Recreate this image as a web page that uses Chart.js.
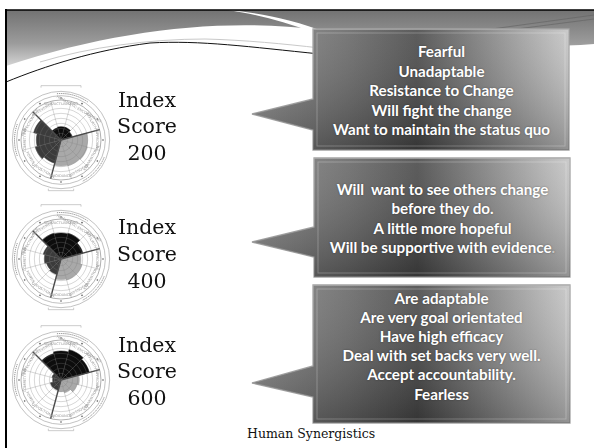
<!DOCTYPE html>
<html>
<head>
<meta charset="utf-8">
<script src="https://cdn.jsdelivr.net/npm/chart.js@4.4.0/dist/chart.umd.min.js"></script>
<style>
  html, body { margin: 0; padding: 0; background: #fff; }
  #slide { position: relative; width: 594px; height: 448px; overflow: hidden; background: #fff; }
  #bg { position: absolute; left: 0; top: 0; }
  .wheel { position: absolute; left: 1px; width: 120px; height: 120px; }
  .score { position: absolute; left: 107px; width: 80px; text-align: center;
           font-family: 'DejaVu Serif', serif; font-size: 20.5px; line-height: 26.5px; color: #111; }
  .note { position: absolute; left: 313px; width: 257px; text-align: center;
          font-family: Lato, 'Open Sans', sans-serif; font-weight: 700; font-size: 15.2px;
          color: #fff; text-shadow: 0 0 2px rgba(0,0,0,0.4); white-space: pre; }
  #footer { position: absolute; left: 247px; top: 426px; font-family: 'DejaVu Serif', serif;
            font-size: 12.5px; color: #111; white-space: nowrap; }
  #frame { position: absolute; left: 5px; top: 9px; width: 1.6px; height: 440px; background: #000; }
</style>
</head>
<body>
<div id="slide">
  <svg id="bg" width="594" height="448">
    <defs>
      <linearGradient id="band" x1="0" y1="0" x2="0" y2="1">
        <stop offset="0" stop-color="#727272"/>
        <stop offset="0.6" stop-color="#9c9c9c"/>
        <stop offset="1" stop-color="#d4d4d4"/>
      </linearGradient>
      <linearGradient id="boxH" x1="0" y1="0" x2="1" y2="0">
        <stop offset="0" stop-color="#8a8a8a"/>
        <stop offset="0.3" stop-color="#666"/>
        <stop offset="0.52" stop-color="#464646"/>
        <stop offset="0.78" stop-color="#8a8a8a"/>
        <stop offset="1" stop-color="#c4c4c4"/>
      </linearGradient>
      <linearGradient id="boxV" x1="0" y1="0" x2="0" y2="1">
        <stop offset="0" stop-color="#fff" stop-opacity="0.12"/>
        <stop offset="1" stop-color="#000" stop-opacity="0.25"/>
      </linearGradient>
    </defs>
    <!-- header swoosh -->
    <path d="M6,10 H594 V44 C520,50 420,42 320,30 C230,18 120,28 6,66 Z" fill="url(#band)"/>
    <path d="M228,10 C260,13 292,19 328,33 L312,32 C284,22 260,15 228,10 Z" fill="#fff"/>
    <path d="M40,62 C90,47 150,39 205,39 C245,40 285,44 320,48" fill="none" stroke="#c9c9c9" stroke-width="1"/>
    <path d="M6,82 C45,66 95,50 150,43 C200,40 250,47 320,54" fill="none" stroke="#111" stroke-width="1"/>
    <path d="M470,32 L594,15 M478,34 L594,19" fill="none" stroke="#666" stroke-width="0.7"/>
    <path d="M5,10 H594" stroke="#000" stroke-width="1.6"/>
    <!-- callouts -->
    <g stroke="#a4a4a4" stroke-width="1.3">
      <path d="M313,29 H569 V150 H313 V130 L252,114 L313,99 Z" fill="url(#boxH)"/>
      <path d="M314,158 H570 V277 H314 V257 L252,242 L314,227 Z" fill="url(#boxH)"/>
      <path d="M313,285 H570 V423 H313 V397 L252,383 L313,366 Z" fill="url(#boxH)"/>
    </g>
    <g stroke="none">
      <path d="M313,29 H569 V150 H313 V130 L252,114 L313,99 Z" fill="url(#boxV)"/>
      <path d="M314,158 H570 V277 H314 V257 L252,242 L314,227 Z" fill="url(#boxV)"/>
      <path d="M313,285 H570 V423 H313 V397 L252,383 L313,366 Z" fill="url(#boxV)"/>
    </g>
    <g fill="none" stroke="#fff" stroke-opacity="0.25" stroke-width="1">
      <rect x="317" y="33" width="248" height="113"/>
      <rect x="318" y="162" width="248" height="111"/>
      <rect x="317" y="289" width="249" height="130"/>
    </g>
  </svg>

  <div class="wheel" style="top:80px"><canvas id="wheel200"></canvas></div>
  <div class="wheel" style="top:199px"><canvas id="wheel400"></canvas></div>
  <div class="wheel" style="top:320px"><canvas id="wheel600"></canvas></div>

  <div class="score" style="top:86.5px">Index<br>Score<br>200</div>
  <div class="score" style="top:213.5px; line-height:27px">Index<br>Score<br>400</div>
  <div class="score" style="top:331.5px">Index<br>Score<br>600</div>

  <div class="note" style="top:42px; line-height:19.5px">Fearful
Unadaptable
Resistance to Change
Will fight the change
Want to maintain the status quo</div>
  <div class="note" style="top:180px; line-height:19.3px; left:314px">Will  want to see others change
before they do.
A little more hopeful
Will be supportive with evidence<span style="color:#c8c8c8">.</span></div>
  <div class="note" style="top:288.5px; line-height:19.2px">Are adaptable
Are very goal orientated
Have high efficacy
Deal with set backs very well.
Accept accountability.
Fearless</div>

  <div id="footer">Human Synergistics</div>
  <div id="frame"></div>
</div>

<script>
// circumplex styles, clockwise from 11 o'clock
const styleLabels = ['Achievement', 'Self-Actualizing', 'Humanistic-Encouraging', 'Affiliative',
                     'Approval', 'Conventional', 'Dependent', 'Avoidance',
                     'Oppositional', 'Power', 'Competitive', 'Perfectionistic'];
const score200 = [38, 40, 40, 35, 80, 82, 80, 78, 72, 80, 74, 85];
const score400 = [80, 78, 80, 68, 60, 65, 65, 62, 48, 45, 50, 55];
const score600 = [82, 87, 94, 88, 55, 50, 40, 35, 32, 33, 25, 28];
const ringValues = [0, 20, 35, 50, 65, 80, 95, 120];
const clusterColors = ['#0d0d0d', '#0d0d0d', '#0d0d0d', '#0d0d0d',
                       '#a9a9a9', '#a9a9a9', '#a9a9a9', '#a9a9a9',
                       '#3b3b3b', '#3b3b3b', '#3b3b3b', '#3b3b3b'];

// outer rings, dots, style names and cluster marks round the wheel
const circumplexDecor = {
    id: 'circumplexDecor',
    afterDraw: (chart) => {
        const r = chart.scales.r;
        const ctx = chart.ctx;
        const cx = r.xCenter, cy = r.yCenter;
        const dist = (v) => r.getDistanceFromCenterForValue(v);
        const n = chart.data.labels.length;
        const mid = (i) => r.getIndexAngle(i) + Math.PI / n - Math.PI / 2;
        ctx.save();

        ctx.strokeStyle = '#a8a8a8';
        ctx.lineWidth = 0.7;
        [133, 146].forEach(v => {
            ctx.beginPath();
            ctx.arc(cx, cy, dist(v), 0, Math.PI * 2);
            ctx.stroke();
        });

        ctx.fillStyle = '#555';
        for (let i = 0; i < n; i++) {
            const a = mid(i);
            ctx.beginPath();
            ctx.arc(cx + Math.cos(a) * dist(126), cy + Math.sin(a) * dist(126), 0.8, 0, Math.PI * 2);
            ctx.fill();
        }

        ctx.fillStyle = '#999';
        ctx.font = '3.6px "DejaVu Sans"';
        ctx.textAlign = 'center';
        ctx.textBaseline = 'middle';
        chart.data.labels.forEach((label, i) => {
            const a = mid(i);
            ctx.save();
            ctx.translate(cx + Math.cos(a) * dist(107), cy + Math.sin(a) * dist(107));
            let rot = a + Math.PI / 2;
            if (Math.sin(a) > 0.05) rot += Math.PI;
            ctx.rotate(rot);
            ctx.fillText(label.toUpperCase(), 0, 0);
            ctx.restore();
        });

        // cluster names on the outer band, drawn as faint dashes
        ctx.strokeStyle = '#777';
        ctx.lineWidth = 0.9;
        ctx.setLineDash([1.2, 0.9]);
        [[-95, -55], [160, 200], [22, 62]].forEach(([a0, a1]) => {
            ctx.beginPath();
            ctx.arc(cx, cy, dist(139.5), a0 * Math.PI / 180, a1 * Math.PI / 180);
            ctx.stroke();
        });
        ctx.setLineDash([]);

        // small brackets above and below
        ctx.strokeStyle = '#aaa';
        ctx.lineWidth = 0.6;
        [[-163, 60], [152, 38]].forEach(([v, w]) => {
            const y = cy + (v < 0 ? -dist(-v) : dist(v));
            const hw = dist(w);
            ctx.beginPath();
            ctx.moveTo(cx - hw, y + (v < 0 ? 2 : -2));
            ctx.lineTo(cx - hw, y);
            ctx.lineTo(cx + hw, y);
            ctx.lineTo(cx + hw, y + (v < 0 ? 2 : -2));
            ctx.stroke();
        });
        ctx.restore();
    }
};

function makeWheel(id, values) {
    return new Chart(document.getElementById(id), {
        type: 'polarArea',
        data: {
            labels: styleLabels,
            datasets: [{
                data: values,
                backgroundColor: clusterColors,
                borderColor: clusterColors,
                borderWidth: 0.5
            }]
        },
        options: {
            responsive: true,
            maintainAspectRatio: false,
            animation: false,
            layout: { padding: 20 },
            plugins: { legend: { display: false }, tooltip: { enabled: false } },
            scales: {
                r: {
                    min: 0,
                    max: 120,
                    startAngle: -45,
                    afterBuildTicks: (scale) => {
                        scale.ticks = ringValues.map(v => ({ value: v }));
                    },
                    ticks: { display: false },
                    pointLabels: { display: false },
                    grid: {
                        z: 1,
                        color: (ctx) => ctx.tick && ctx.tick.value === 120 ? '#7a7a7a' : 'rgba(120,120,120,0.5)',
                        lineWidth: 0.6
                    },
                    angleLines: {
                        display: true,
                        color: (ctx) => ctx.index % 4 === 0 ? '#4a4a4a' : 'rgba(120,120,120,0.5)',
                        lineWidth: (ctx) => ctx.index % 4 === 0 ? 1.4 : 0.6
                    }
                }
            }
        },
        plugins: [circumplexDecor]
    });
}

makeWheel('wheel200', score200);
makeWheel('wheel400', score400);
makeWheel('wheel600', score600);
</script>
</body>
</html>
